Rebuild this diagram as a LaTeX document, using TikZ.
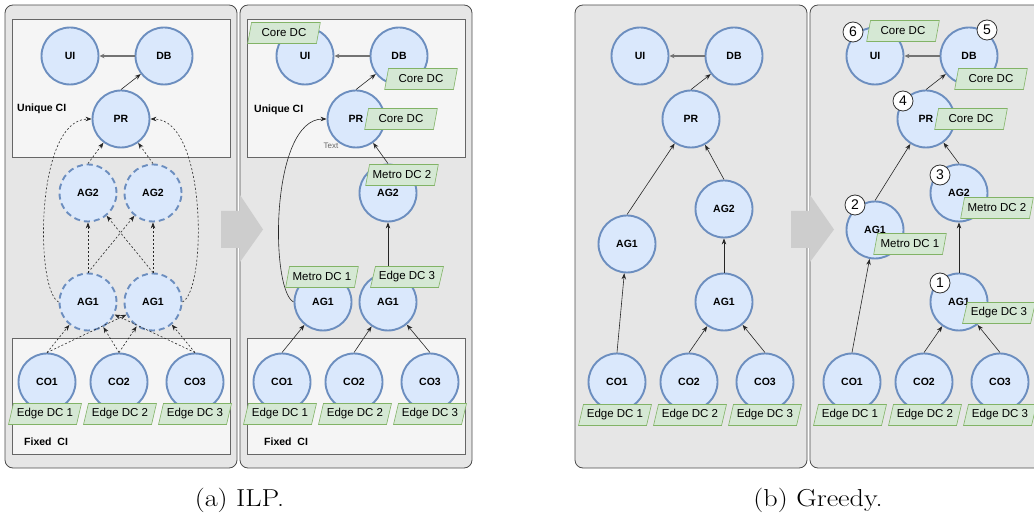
\documentclass[tikz,border=0pt]{standalone}
\usepackage{graphicx}
\usepackage{fontspec}
\setsansfont{Liberation Sans}
\usetikzlibrary{shapes.geometric,arrows.meta}

\definecolor{nodefill}{HTML}{DAE8FC}
\definecolor{nodeline}{HTML}{6C8EBF}
\definecolor{tagfill}{HTML}{D5E8D4}
\definecolor{tagline}{HTML}{82B366}
\definecolor{panelfill}{HTML}{E6E6E6}
\definecolor{cifill}{HTML}{F5F5F5}
\definecolor{chevronfill}{HTML}{CDCDCD}

\tikzset{
  svc/.style={circle, fill=nodefill, draw=nodeline, line width=1.9pt,
    minimum size=57pt, inner sep=0pt,
    font=\sffamily\bfseries\fontsize{10.5}{12}\selectfont},
  svcd/.style={svc, dash pattern=on 6pt off 4pt},
  tag/.style={trapezium, trapezium left angle=70, trapezium right angle=110,
    trapezium stretches=true, fill=tagfill, draw=tagline, line width=0.6pt,
    minimum width=73pt, minimum height=21pt, inner sep=0pt,
    font=\sffamily\fontsize{11.5}{13}\selectfont,
    execute at begin node={\hbox to 50pt\bgroup\hss},
    execute at end node={\hss\egroup}},
  ord/.style={circle, fill=white, draw=black!80, line width=0.8pt,
    minimum size=20pt, inner sep=0pt, font=\sffamily\fontsize{14}{16}\selectfont},
  lnk/.style={-{Stealth[length=6pt,width=4.5pt]}, line width=0.6pt, draw=black!85},
  dlnk/.style={lnk, dash pattern=on 2pt off 2pt},
  hlnk/.style={-{Stealth[length=5pt,width=4.5pt]}, line width=1.1pt, draw=black!55},
  panel/.style={fill=panelfill, draw=black!70, line width=0.8pt, rounded corners=8pt},
  cibox/.style={fill=cifill, draw=black!60, line width=0.7pt},
  cilabel/.style={anchor=west, inner sep=0pt, font=\sffamily\bfseries\fontsize{10.5}{12}\selectfont},
  capt/.style={inner sep=0pt, font=\fontsize{24.5}{28}\selectfont},
}

\begin{document}
\begin{tikzpicture}[x=1pt,y=-1pt]
\useasboundingbox (0,0) rectangle (1034,521);
\clip (0,0) rectangle (1034,521);

% ---------- panels ----------
\draw[panel] (5,5) rectangle (237,468);
\draw[panel] (240,5) rectangle (472,468);
\draw[panel] (575,5) rectangle (807,468);
\draw[panel] (810,5) rectangle (1042,468);

% CI areas of the ILP panels
\draw[cibox] (12,19) rectangle (230,157);
\draw[cibox] (12,338) rectangle (230,454);
\draw[cibox] (247,19) rectangle (465,157);
\draw[cibox] (247,338) rectangle (465,454);
\node[cilabel] (aUCI) at (17,109) {Unique CI};
\node[cilabel] (aFCI) at (24,442) {Fixed\ \ CI};
\node[cilabel] (bUCI) at (254,110) {Unique CI};
\node[cilabel] (bFCI) at (264,442) {Fixed\ \ CI};

% ---------- panel a : candidate placement graph ----------
\node[svc]  (aUI)   at (70,56)   {UI};
\node[svc]  (aDB)   at (164,56)  {DB};
\node[svc]  (aPR)   at (121,119) {PR};
\node[svcd] (aAG2a) at (88,193)  {AG2};
\node[svcd] (aAG2b) at (153,193) {AG2};
\node[svcd] (aAG1a) at (88,302)  {AG1};
\node[svcd] (aAG1b) at (153,302) {AG1};
\node[svc]  (aCO1)  at (47,382)  {CO1};
\node[svc]  (aCO2)  at (119,382) {CO2};
\node[svc]  (aCO3)  at (195,382) {CO3};

\draw[hlnk] (aDB) -- (aUI);
\draw[lnk]  (aPR.north) -- (aDB);
\draw[dlnk] (aAG2a.north) -- (aPR);
\draw[dlnk] (aAG2b.north) -- (aPR);
\draw[dlnk] (aAG1a.north) -- (aAG2a);
\draw[dlnk] (aAG1a.north) -- (aAG2b);
\draw[dlnk] (aAG1b.north) -- (aAG2a);
\draw[dlnk] (aAG1b.north) -- (aAG2b);
\draw[dlnk] (aAG1a.west) .. controls (35,290) and (35,119) .. (aPR.west);
\draw[dlnk] (aAG1b.east) .. controls (207,290) and (207,119) .. (aPR.east);
\draw[dlnk] (aCO1.north) -- (aAG1a);
\draw[dlnk] (aCO1.north) -- (aAG1b);
\draw[dlnk] (aCO2.north) -- (aAG1a);
\draw[dlnk] (aCO2.north) -- (aAG1b);
\draw[dlnk] (aCO3.north) -- (aAG1a);
\draw[dlnk] (aCO3.north) -- (aAG1b);

\node[tag] (aE1) at (45,414)  {Edge DC 1};
\node[tag] (aE2) at (120,414) {Edge DC 2};
\node[tag] (aE3) at (195,414) {Edge DC 3};

% ---------- panel b : ILP placement ----------
\node[svc] (bUI)   at (305,56)  {UI};
\node[svc] (bDB)   at (399,56)  {DB};
\node[svc] (bPR)   at (356,119) {PR};
\node[svc] (bAG2)  at (388,193) {AG2};
\node[svc] (bAG1a) at (323,302) {AG1};
\node[svc] (bAG1b) at (388,302) {AG1};
\node[svc] (bCO1)  at (282,382) {CO1};
\node[svc] (bCO2)  at (354,382) {CO2};
\node[svc] (bCO3)  at (430,382) {CO3};

\draw[hlnk] (bDB) -- (bUI);
\draw[lnk]  (bPR.north) -- (bDB);
\draw[lnk]  (bAG2.north) -- (bPR);
\draw[lnk]  (bAG1b.north) -- (bAG2);
\draw[lnk]  (bAG1a.west) .. controls (270,290) and (270,119) .. (bPR.west);
\draw[lnk]  (bCO1.north) -- (bAG1a);
\draw[lnk]  (bCO2.north) -- (bAG1b);
\draw[lnk]  (bCO3.north) -- (bAG1b);

\node[anchor=center, text=black!60, font=\sffamily\fontsize{8}{9}\selectfont] (bTxt) at (331,146) {Text};

\node[tag] (bCUI) at (284,33)  {Core DC};
\node[tag] (bCDB) at (421,79)  {Core DC};
\node[tag] (bCPR) at (401,119) {Core DC};
\node[tag] (bM2)  at (402,175) {Metro DC 2};
\node[tag] (bM1)  at (322,277) {Metro DC 1};
\node[tag] (bE3a) at (407,277) {Edge DC 3};
\node[tag] (bE1)  at (280,414) {Edge DC 1};
\node[tag] (bE2)  at (355,414) {Edge DC 2};
\node[tag] (bE3)  at (430,414) {Edge DC 3};

% ---------- panel c : greedy graph ----------
\node[svc] (cUI)   at (640,56)  {UI};
\node[svc] (cDB)   at (734,56)  {DB};
\node[svc] (cPR)   at (691,119) {PR};
\node[svc] (cAG1a) at (627,244) {AG1};
\node[svc] (cAG2)  at (724,209) {AG2};
\node[svc] (cAG1b) at (724,302) {AG1};
\node[svc] (cCO1)  at (617,382) {CO1};
\node[svc] (cCO2)  at (689,382) {CO2};
\node[svc] (cCO3)  at (765,382) {CO3};

\draw[hlnk] (cDB) -- (cUI);
\draw[lnk]  (cPR.north) -- (cDB);
\draw[lnk]  (cAG1a.north) -- (cPR);
\draw[lnk]  (cAG2.north) -- (cPR);
\draw[lnk]  (cAG1b.north) -- (cAG2);
\draw[lnk]  (cCO1.north) -- (cAG1a);
\draw[lnk]  (cCO2.north) -- (cAG1b);
\draw[lnk]  (cCO3.north) -- (cAG1b);

\node[tag] (cE1) at (615,415) {Edge DC 1};
\node[tag] (cE2) at (690,415) {Edge DC 2};
\node[tag] (cE3) at (765,415) {Edge DC 3};

% ---------- panel d : greedy placement ----------
\node[svc] (dUI)   at (875,56)  {UI};
\node[svc] (dDB)   at (969,56)  {DB};
\node[svc] (dPR)   at (926,119) {PR};
\node[svc] (dAG1a) at (875,230) {AG1};
\node[svc] (dAG2)  at (959,193) {AG2};
\node[svc] (dAG1b) at (959,302) {AG1};
\node[svc] (dCO1)  at (852,382) {CO1};
\node[svc] (dCO2)  at (924,382) {CO2};
\node[svc] (dCO3)  at (1000,382) {CO3};

\draw[hlnk] (dDB) -- (dUI);
\draw[lnk]  (dPR.north) -- (dDB);
\draw[lnk]  (dAG1a.north) -- (dPR);
\draw[lnk]  (dAG2.north) -- (dPR);
\draw[lnk]  (dAG1b.north) -- (dAG2);
\draw[lnk]  (dCO1.north) -- (dAG1a);
\draw[lnk]  (dCO2.north) -- (dAG1b);
\draw[lnk]  (dCO3.north) -- (dAG1b);

\node[tag] (dCUI) at (903,31)  {Core DC};
\node[tag] (dCDB) at (991,79)  {Core DC};
\node[tag] (dCPR) at (971,119) {Core DC};
\node[tag] (dM2)  at (997,208) {Metro DC 2};
\node[tag] (dM1)  at (910,244) {Metro DC 1};
\node[tag] (dE3a) at (999,313) {Edge DC 3};
\node[tag] (dE1)  at (850,415) {Edge DC 1};
\node[tag] (dE2)  at (925,415) {Edge DC 2};
\node[tag] (dE3)  at (1000,415) {Edge DC 3};

% placement order
\node[ord] (o6) at (853,32)  {6};
\node[ord] (o5) at (987,30)  {5};
\node[ord] (o4) at (903,101) {4};
\node[ord] (o3) at (940,175) {3};
\node[ord] (o2) at (855,205) {2};
\node[ord] (o1) at (940,283) {1};

% ---------- transition arrows ----------
\fill[chevronfill] (221,211) -- (240,211) -- (240,195) -- (263,229.5)
  -- (240,262) -- (240,248) -- (221,248) -- cycle;
\fill[chevronfill] (791,211) -- (810,211) -- (810,195) -- (834,229.5)
  -- (810,262) -- (810,248) -- (791,248) -- cycle;

% ---------- captions ----------
\node[capt] (capA) at (239.5,500) {\scalebox{1.15}[1]{(a) ILP.}};
\node[capt] (capB) at (818,500) {\scalebox{1.15}[1]{(b) Greedy.}};
\end{tikzpicture}
\end{document}
